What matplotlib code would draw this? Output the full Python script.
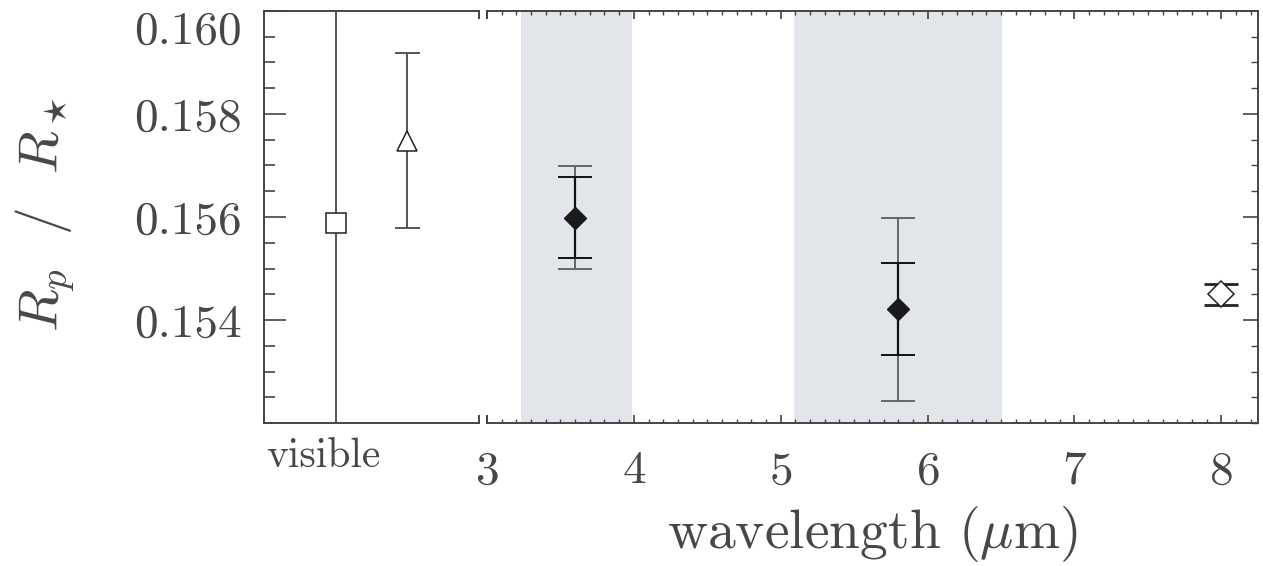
import matplotlib
matplotlib.use("Agg")
import matplotlib.pyplot as plt
from matplotlib.ticker import MultipleLocator

plt.rcParams['font.family'] = 'serif'
plt.rcParams['font.serif'] = ['cmr10', 'DejaVu Serif']
plt.rcParams['mathtext.fontset'] = 'cm'
plt.rcParams['axes.formatter.use_mathtext'] = True

# data
vis_x = [1, 2]
vis_y = [0.15588, 0.15748]
vis_err = [0.02, 0.0017]

irac_wave = [3.6, 5.8]
irac_y = [0.15599, 0.15421]
irac_err_in = [0.00079, 0.00089]
irac_err_out = [0.00100, 0.00178]

mips_wave = [8.0]
mips_y = [0.15450]
mips_err = [0.00020]

bands = [(3.23, 3.99), (5.09, 6.51)]
yticks = [0.154, 0.156, 0.158, 0.160]
xticks = [3, 4, 5, 6, 7, 8]

txt = '#474747'
spine = '#444444'

fig = plt.figure(figsize=(12.63, 5.66), dpi=100)
axl = fig.add_axes([264/1263, 1-423/566, 215/1263, 412/566])
axr = fig.add_axes([487/1263, 1-423/566, 771/1263, 412/566])

for ax in (axl, axr):
    ax.set_ylim(0.152, 0.160)
    for s in ax.spines.values():
        s.set_color(spine)
        s.set_linewidth(1.4)

# left panel: visible
axl.set_xlim(0, 3)
axl.spines['right'].set_visible(False)
axl.errorbar(vis_x[:1], vis_y[:1], yerr=vis_err[:1], fmt='none', ecolor='#555555', elinewidth=1.4)
axl.errorbar(vis_x[1:], vis_y[1:], yerr=vis_err[1:], fmt='none', ecolor='#555555', elinewidth=1.4,
             capsize=9, capthick=1.4)
axl.plot(vis_x[:1], vis_y[:1], 's', ms=14, mfc='white', mec='#222222', mew=1.1, zorder=5)
axl.plot(vis_x[1:], vis_y[1:], '^', ms=15, mfc='white', mec='#222222', mew=1.1, zorder=5)
axl.set_xticks([])
axl.set_yticks(yticks)
axl.yaxis.set_minor_locator(MultipleLocator(0.0005))
axl.tick_params(axis='y', which='major', direction='in', length=16, width=1.2, color=spine,
                labelsize=34, labelcolor=txt, pad=16)
axl.tick_params(axis='y', which='minor', direction='in', length=8, width=1.2, color=spine)
axl.set_yticklabels(['%.3f' % v for v in yticks])
axl.get_yticklabels()[-1].set_verticalalignment('top')
axl.text(0.275, -0.035, 'visible', transform=axl.transAxes, ha='center', va='top',
         fontsize=30, color=txt)

# right panel: Spitzer
axr.set_xlim(3.0, 8.25)
axr.spines['left'].set_visible(False)
for lo, hi in bands:
    axr.axvspan(lo, hi, color='#e2e5ea', lw=0, zorder=0)
axr.errorbar(irac_wave, irac_y, yerr=irac_err_out, fmt='none', ecolor='#666666',
             elinewidth=1.4, capsize=12, capthick=1.4)
axr.errorbar(irac_wave, irac_y, yerr=irac_err_in, fmt='none', ecolor='#111111',
             elinewidth=1.6, capsize=12, capthick=1.4)
axr.plot(irac_wave, irac_y, 'D', ms=11, color='#1a1a1a', zorder=5)
axr.errorbar(mips_wave, mips_y, yerr=mips_err, fmt='none', ecolor='#222222',
             elinewidth=1.4, capsize=12, capthick=2)
axr.plot(mips_wave, mips_y, 'D', ms=13, mfc='white', mec='#222222', mew=1.1, zorder=5)

axr.set_xticks(xticks)
axr.xaxis.set_minor_locator(MultipleLocator(0.1))
axr.set_yticks(yticks)
axr.yaxis.set_minor_locator(MultipleLocator(0.0005))
axr.tick_params(axis='x', which='major', direction='in', top=True, length=6, width=1.2,
                color=spine, labelsize=34, labelcolor=txt, pad=20)
axr.tick_params(axis='x', which='minor', direction='in', top=True, length=3, width=1.0, color=spine)
axr.tick_params(axis='y', which='major', direction='in', left=False, right=True, labelleft=False,
                length=11, width=1.2, color=spine)
axr.tick_params(axis='y', which='minor', direction='in', left=False, right=True, length=5,
                width=1.0, color=spine)
axr.set_xlabel(r'wavelength ($\mu$m)', fontsize=40, color=txt, labelpad=8)

# broken-axis stubs
for ax, xe in ((axl, 1), (axr, 0)):
    ax.plot([xe, xe], [0, 0.018], transform=ax.transAxes, color=spine, lw=1.4, clip_on=False)
    ax.plot([xe, xe], [1, 0.982], transform=ax.transAxes, color=spine, lw=1.4, clip_on=False)

fig.text(45/1263, 1-215/566, r'$R_p\ \ /\ \ R_\star$', rotation=90, ha='center', va='center',
         fontsize=40, color=txt)

fig.savefig('out.png', dpi=100)
